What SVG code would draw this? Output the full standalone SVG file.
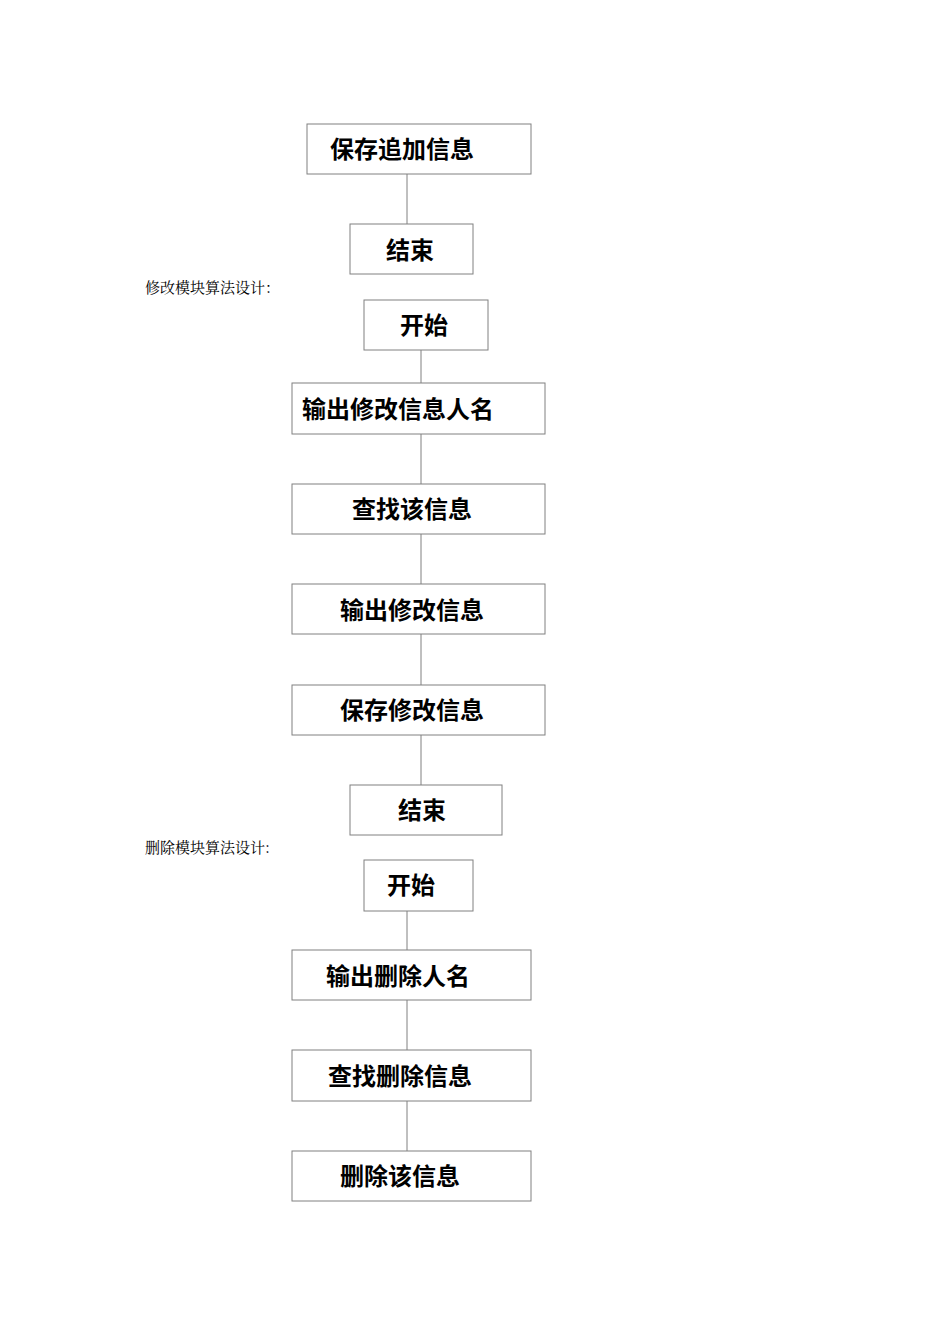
<svg xmlns="http://www.w3.org/2000/svg" width="950" height="1344" viewBox="0 0 950 1344">
<style>
.b{fill:#fff;stroke:#808080;stroke-width:1}
.t{font-family:"Noto Sans CJK SC",sans-serif;font-size:24px;font-weight:bold;fill:#000}
.l{font-family:"Noto Serif CJK SC","Noto Sans CJK SC",serif;font-size:15px;fill:#000}
.c{stroke:#808080;stroke-width:1}
</style>
<rect width="950" height="1344" fill="#fff"/>
<g id="connectors">
<line class="c" x1="407" y1="174" x2="407" y2="224"/>
<line class="c" x1="421" y1="350" x2="421" y2="383"/>
<line class="c" x1="421" y1="434" x2="421" y2="484"/>
<line class="c" x1="421" y1="534" x2="421" y2="584"/>
<line class="c" x1="421" y1="634" x2="421" y2="685"/>
<line class="c" x1="421" y1="735" x2="421" y2="785"/>
<line class="c" x1="407" y1="911" x2="407" y2="950"/>
<line class="c" x1="407" y1="1000" x2="407" y2="1050"/>
<line class="c" x1="407" y1="1101" x2="407" y2="1151"/>
</g>
<text class="l" x="145" y="293">修改模块算法设计：</text>
<text class="l" x="145" y="853">删除模块算法设计:</text>
<g id="n1"><rect class="b" x="307" y="124" width="224" height="50"/><text class="t" x="330" y="158">保存追加信息</text></g>
<g id="n2"><rect class="b" x="350" y="224" width="123" height="50"/><text class="t" x="386" y="259">结束</text></g>
<g id="n3"><rect class="b" x="364" y="300" width="124" height="50"/><text class="t" x="400" y="334">开始</text></g>
<g id="n4"><rect class="b" x="292" y="383" width="253" height="51"/><text class="t" x="302" y="418">输出修改信息人名</text></g>
<g id="n5"><rect class="b" x="292" y="484" width="253" height="50"/><text class="t" x="352" y="518">查找该信息</text></g>
<g id="n6"><rect class="b" x="292" y="584" width="253" height="50"/><text class="t" x="340" y="619">输出修改信息</text></g>
<g id="n7"><rect class="b" x="292" y="685" width="253" height="50"/><text class="t" x="340" y="719">保存修改信息</text></g>
<g id="n8"><rect class="b" x="350" y="785" width="152" height="50"/><text class="t" x="398" y="819">结束</text></g>
<g id="n9"><rect class="b" x="364" y="860" width="109" height="51"/><text class="t" x="387" y="894">开始</text></g>
<g id="n10"><rect class="b" x="292" y="950" width="239" height="50"/><text class="t" x="326" y="985">输出删除人名</text></g>
<g id="n11"><rect class="b" x="292" y="1050" width="239" height="51"/><text class="t" x="328" y="1085">查找删除信息</text></g>
<g id="n12"><rect class="b" x="292" y="1151" width="239" height="50"/><text class="t" x="340" y="1185">删除该信息</text></g>
</svg>
